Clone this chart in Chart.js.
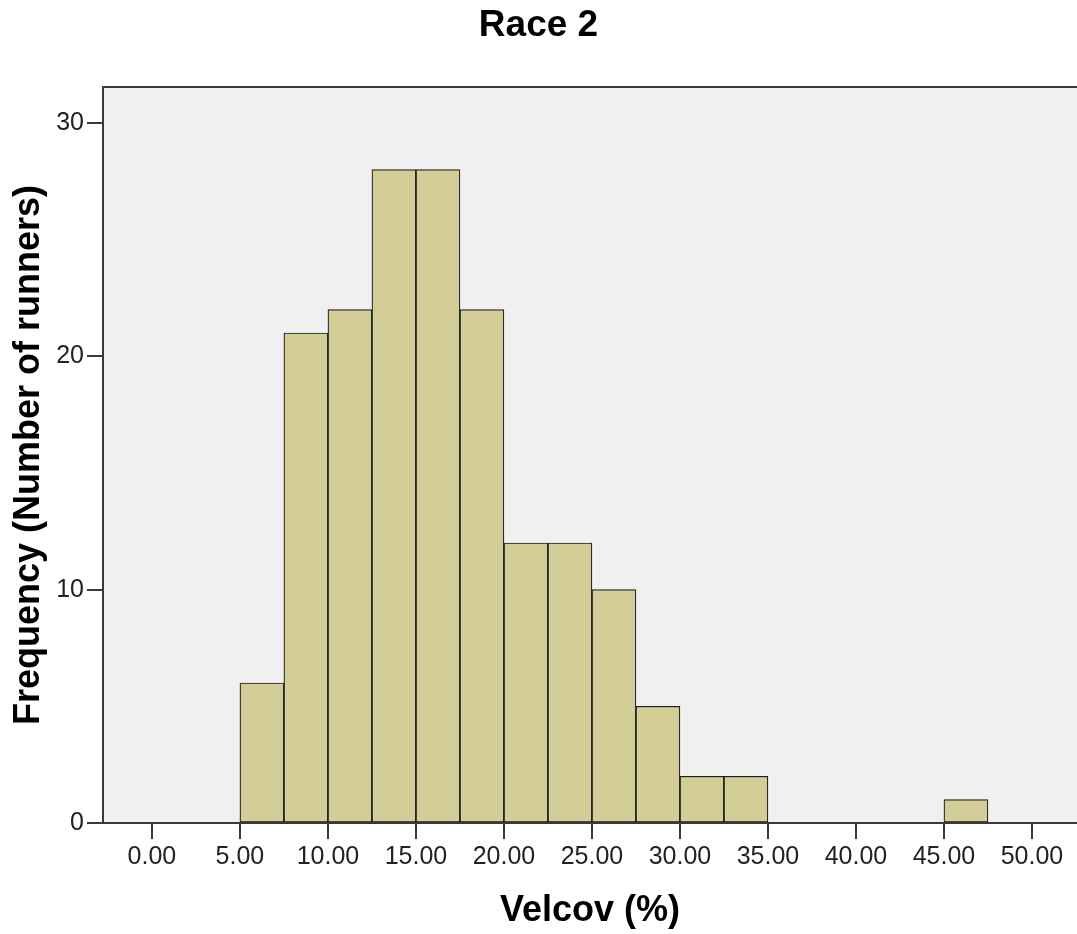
<!DOCTYPE html>
<html>
<head>
<meta charset="utf-8">
<script src="https://cdn.jsdelivr.net/npm/chart.js@4/dist/chart.umd.min.js"></script>
<style>
  html, body { margin:0; padding:0; background:#fff; }
  #wrap { width:1077px; height:934px; }
</style>
</head>
<body>
<div id="wrap"><canvas id="hist" width="1077" height="934"></canvas></div>
<script>
// histogram bins (left edge of each 2.5 wide bin) and counts
const binStarts = [5, 7.5, 10, 12.5, 15, 17.5, 20, 22.5, 25, 27.5, 30, 32.5, 35, 37.5, 40, 42.5, 45];
const counts    = [6, 21, 22, 28, 28, 22, 12, 12, 10, 5, 2, 2, 0, 0, 0, 0, 1];
const binWidth = 2.5;
const xTicks = [0, 5, 10, 15, 20, 25, 30, 35, 40, 45, 50];
const yTicks = [0, 10, 20, 30];

const FONT = 'Arial, "Liberation Sans", sans-serif';

// fondo gris del area y borde superior
const plotFrame = {
  id: 'plotFrame',
  beforeDraw(chart){
    const {ctx, chartArea:a} = chart;
    ctx.save();
    ctx.fillStyle = '#f0f0f0';
    ctx.fillRect(a.left, a.top, a.right - a.left, a.bottom - a.top);
    ctx.restore();
  },
  afterDraw(chart){
    const {ctx, chartArea:a} = chart;
    ctx.save();
    ctx.strokeStyle = '#3a3a3a';
    ctx.lineWidth = 2;
    ctx.beginPath();
    ctx.moveTo(a.left, a.top);
    ctx.lineTo(a.right, a.top);
    ctx.stroke();
    ctx.restore();
  }
};

new Chart(document.getElementById('hist').getContext('2d'), {
  type: 'bar',
  data: {
    datasets: [{
      data: binStarts.map((b, i) => ({ x: b + binWidth / 2, y: counts[i] })),
      backgroundColor: '#d3ce97',
      borderColor: '#1e1e1e',
      borderWidth: 1.2,
      borderSkipped: false,
      barPercentage: 1,
      categoryPercentage: 1
    }]
  },
  plugins: [plotFrame],
  options: {
    responsive: false,
    animation: false,
    layout: { padding: 0 },
    plugins: {
      legend: { display: false },
      tooltip: { enabled: false },
      title: {
        display: true,
        text: 'Race 2',
        color: '#000',
        font: { family: FONT, size: 37, weight: 'bold', lineHeight: 1.2 },
        padding: { top: 4, bottom: 38.6 }
      }
    },
    scales: {
      x: {
        type: 'linear',
        offset: false,
        min: -2.78,
        max: 52.56,
        afterBuildTicks: s => { s.ticks = xTicks.map(v => ({ value: v })); },
        afterFit: s => { s.height = 111; },
        ticks: {
          callback: v => v.toFixed(2),
          color: '#222',
          font: { family: FONT, size: 25 },
          padding: 3,
          maxRotation: 0,
          autoSkip: false
        },
        grid: { offset: false, drawOnChartArea: false, drawTicks: true, tickLength: 16, color: '#3a3a3a', lineWidth: 2 },
        border: { display: true, color: '#3a3a3a', width: 2 },
        title: {
          display: true,
          text: 'Velcov (%)',
          color: '#000',
          font: { family: FONT, size: 36, weight: 'bold', lineHeight: 1.2 },
          padding: { top: 0, bottom: 1.5 }
        }
      },
      y: {
        min: 0,
        max: 31.54,
        afterBuildTicks: s => { s.ticks = yTicks.map(v => ({ value: v })); },
        afterFit: s => { s.width = 103; },
        ticks: {
          color: '#222',
          font: { family: FONT, size: 25 },
          padding: 3
        },
        grid: { drawOnChartArea: false, drawTicks: true, tickLength: 16, color: '#3a3a3a', lineWidth: 2 },
        border: { display: true, color: '#3a3a3a', width: 2 },
        title: {
          display: true,
          text: 'Frequency (Number of runners)',
          color: '#000',
          font: { family: FONT, size: 36, weight: 'bold', lineHeight: 1.2 },
          padding: { top: 7, bottom: 0 }
        }
      }
    }
  }
});
</script>
</body>
</html>
